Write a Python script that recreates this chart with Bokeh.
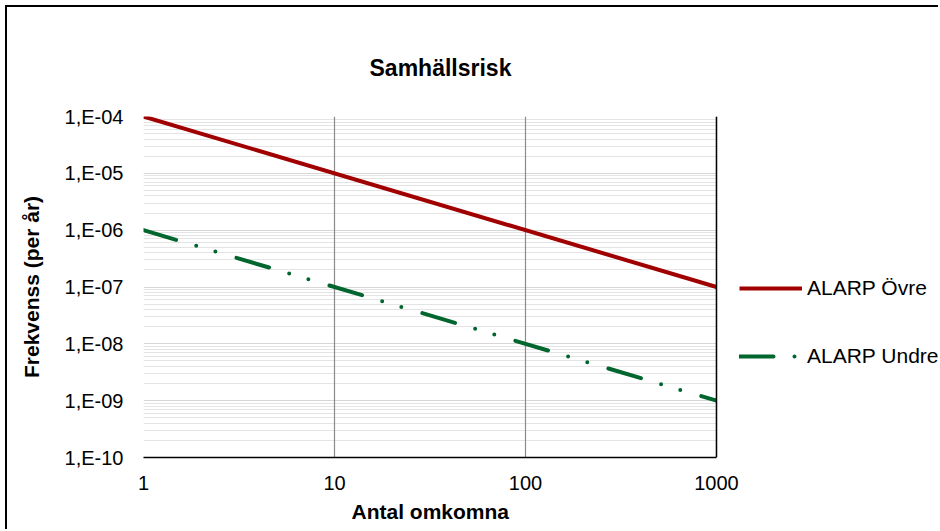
from bokeh.plotting import figure
from bokeh.models import (FixedTicker, CustomJSTickFormatter, Legend, LegendItem,
                          Span, Range1d, BoxAnnotation, Title)
from bokeh.embed import file_html
from bokeh.resources import INLINE

# ---- data ----
x_deaths = [1, 1000]
alarp_ovre = [1e-4, 1e-7]
alarp_undre = [1e-6, 1e-9]
x_ticks = [1, 10, 100, 1000]
x_tick_labels = ["1", "10", "100", "1000"]
y_exponents = [-10, -9, -8, -7, -6, -5, -4]
y_tick_labels = ["1,E-10", "1,E-09", "1,E-08", "1,E-07", "1,E-06", "1,E-05", "1,E-04"]
series_names = ["ALARP Övre", "ALARP Undre"]

FONT = "Liberation Sans"
OX, OY = 7, 7   # canvas offset inside the outer chart frame
W, H = 940 - OX, 531 - OY
FL = 143 - OX               # frame left in canvas px
DEC_PX = (716 - 143) / 3.0  # pixels per decade on x
x_end = 10 ** ((W - FL) / DEC_PX)  # frame runs to canvas right edge (legend area)

p = figure(width=W, height=H, x_axis_type="log", y_axis_type="log",
           x_range=Range1d(x_ticks[0], x_end), y_range=Range1d(1e-10, 1e-4),
           output_backend="svg", toolbar_location=None,
           min_border_left=FL, min_border_right=0,
           min_border_top=116 - OY, min_border_bottom=H - (457 - OY))
p.styles = {"margin-left": "5px", "margin-top": "5px",
            "border-left": "2px solid black", "border-top": "2px solid black"}
p.outline_line_color = None
p.background_fill_color = "white"
p.border_fill_color = "white"

# title
p.title.text = "Samhällsrisk"
p.title.text_font = FONT
p.title.text_font_size = "23px"
p.title.text_font_style = "bold"
p.title.align = "left"
p.title.offset = 226
p.title.standoff = 71
p.title.text_color = "black"

# ticks
y_ticks = [10.0 ** e for e in y_exponents]
y_minor = [k * 10.0 ** e for e in y_exponents[:-1] for k in range(2, 10)]
p.yaxis.ticker = FixedTicker(ticks=y_ticks, minor_ticks=y_minor)
p.xaxis.ticker = FixedTicker(ticks=x_ticks, minor_ticks=[])
p.xaxis.bounds = (x_ticks[0], x_ticks[-1])

p.yaxis.formatter = CustomJSTickFormatter(
    args=dict(exps=y_exponents, labels=y_tick_labels),
    code="""
    const e = Math.round(Math.log10(tick));
    const i = exps.indexOf(e);
    return i >= 0 ? labels[i] : "";
    """)
p.xaxis.formatter = CustomJSTickFormatter(
    args=dict(vals=x_ticks, labels=x_tick_labels),
    code="""
    let best = 0, bd = 1e9;
    for (let i = 0; i < vals.length; i++) {
        const d = Math.abs(Math.log10(vals[i]) - Math.log10(tick));
        if (d < bd) { bd = d; best = i; }
    }
    return bd < 0.01 ? labels[best] : "";
    """)

for ax in (p.xaxis[0], p.yaxis[0]):
    ax.major_tick_line_color = None
    ax.minor_tick_line_color = None
    ax.major_label_text_font = FONT
    ax.major_label_text_font_size = "20px"
    ax.major_label_text_color = "black"
    ax.axis_label_text_font = FONT
    ax.axis_label_text_font_size = "21px"
    ax.axis_label_text_font_style = "bold"
    ax.axis_label_text_color = "black"

p.yaxis.axis_label = "Frekvenss (per år)"
p.xaxis.axis_line_color = "black"
p.xaxis.axis_line_width = 1.5
p.yaxis.axis_line_color = None
p.yaxis.major_label_standoff = 14
p.yaxis.axis_label_standoff = 19
p.xaxis.major_label_standoff = 12

# x axis title, centred under the plot area (not the legend zone)
p.add_layout(Title(text="Antal omkomna", align="left", offset=208, standoff=11,
                   text_font=FONT, text_font_size="21px", text_font_style="bold",
                   text_color="black"), "below")

# grids
p.xgrid.grid_line_color = "#8a8a8a"
p.xgrid.grid_line_width = 1.2
p.ygrid.grid_line_color = "#d6d6d6"
p.ygrid.grid_line_width = 1
p.ygrid.minor_grid_line_color = "#e4e4e4"
p.ygrid.minor_grid_line_width = 1
# vertical grid lines drawn on top of the horizontal ones
xg, yg = p.xgrid[0], p.ygrid[0]
others = [r for r in p.center if r is not xg and r is not yg]
p.center = [yg, xg] + others

# blank area right of the plot area (legend zone)
p.add_layout(BoxAnnotation(left=x_ticks[-1], fill_color="white", fill_alpha=1,
                           line_color=None))
# right border line of plot area
p.add_layout(Span(location=x_ticks[-1], dimension="height", line_color="black",
                  line_width=1.5))

# lines
r1 = p.line(x_deaths, alarp_ovre, line_color="#A00000", line_width=4)
r2 = p.line(x_deaths, alarp_undre, line_color="#00662E", line_width=4,
            line_dash="34 21 0 20 0 22", line_cap="round")

legend = Legend(items=[LegendItem(label=series_names[0], renderers=[r1]),
                       LegendItem(label=series_names[1], renderers=[r2])],
                location=(596, 89), orientation="vertical",
                glyph_width=63, glyph_height=20, label_height=20,
                label_standoff=5, spacing=44, padding=0, margin=0,
                border_line_color=None, background_fill_alpha=0,
                label_text_font=FONT, label_text_font_size="21px",
                label_text_color="black")
p.add_layout(legend, "center")

open("out.html", "w").write(file_html(p, INLINE))
